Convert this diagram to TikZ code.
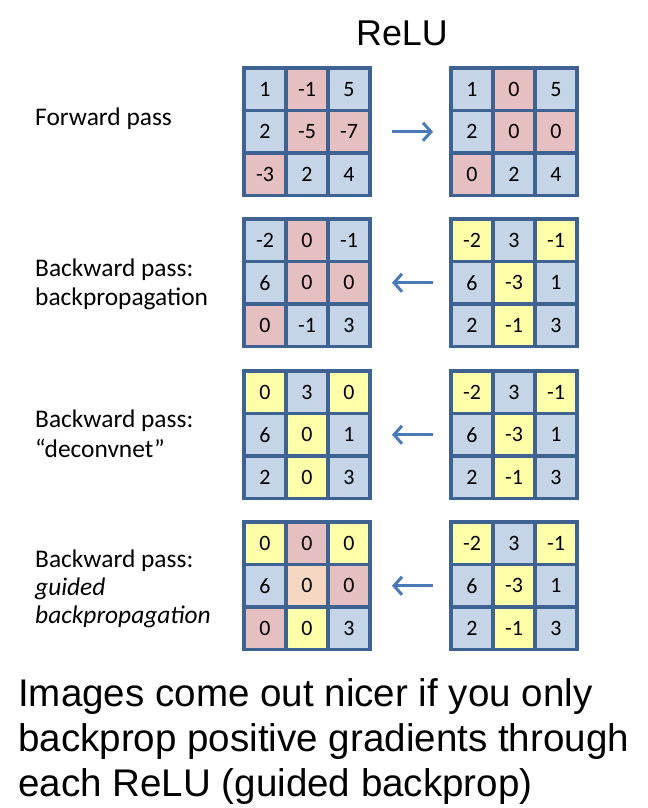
\documentclass[tikz,border=0pt]{standalone}
\usepackage{fontspec}
\setmainfont{Carlito}
\newfontfamily\arialf{Liberation Sans}
\usetikzlibrary{arrows.meta}
\definecolor{cb}{RGB}{198,212,232}
\definecolor{cp}{RGB}{230,192,192}
\definecolor{cy}{RGB}{255,255,170}
\definecolor{co}{RGB}{246,216,194}
\definecolor{gridline}{RGB}{62,98,146}
\definecolor{arrowc}{RGB}{74,122,184}
\tikzset{
  cell/.style={draw=gridline, line width=3.2bp, minimum width=42bp, minimum height=42.5bp,
    inner sep=0pt, outer sep=0pt, anchor=north west, font=\fontsize{22}{26}\selectfont},
  lbl/.style={anchor=base west, inner sep=0pt, font=\fontsize{25.5}{30}\selectfont},
  big/.style={anchor=base west, inner sep=0pt, font=\arialf\fontsize{38.7}{45}\selectfont},
  arr/.style={draw=arrowc, line width=3bp, -{Straight Barb[length=8bp,width=18bp]}}
}
\newcommand\drawgrid[4]{%
  \foreach \v/\c [count=\i from 0] in {#4} {
    \pgfmathtruncatemacro\rowi{int(\i/3)}
    \pgfmathtruncatemacro\coli{mod(\i,3)}
    \node[cell, fill=\c] (#1-\rowi-\coli) at ({#2+\coli*42}, {#3+\rowi*42.5}) {\v};
  }}
\begin{document}
\begin{tikzpicture}[x=1bp,y=-1bp]
\fill[white] (0,0) rectangle (648,808);
\useasboundingbox (0,0) rectangle (648,808);
\node[font=\arialf\fontsize{36}{40}\selectfont, anchor=base, inner sep=0pt] (title) at (402,46) {ReLU};
% labels
\node[lbl] (l1) at (35,125) {Forward pass};
\node[lbl] (l2a) at (35,276) {Backward pass:};
\node[lbl] (l2b) at (35,305) {backpropagation};
\node[lbl] (l3a) at (35,427) {Backward pass:};
\node[lbl] (l3b) at (35,457) {“deconvnet”};
\node[lbl] (l4a) at (35,567) {Backward pass:};
\node[lbl] (l4b) at (35,595) {\itshape guided};
\node[lbl] (l4c) at (35,623) {\itshape backpropagation};
% grids
\drawgrid{L1}{244}{68}{1/cb,-1/cp,5/cb,2/cb,-5/cp,-7/cp,-3/cp,2/cb,4/cb}
\drawgrid{R1}{451}{68}{1/cb,0/cp,5/cb,2/cb,0/cp,0/cp,0/cp,2/cb,4/cb}
\drawgrid{L2}{244}{219}{-2/cb,0/cp,-1/cb,6/cb,0/cp,0/cp,0/cp,-1/cb,3/cb}
\drawgrid{R2}{451}{219}{-2/cy,3/cb,-1/cy,6/cb,-3/cy,1/cb,2/cb,-1/cy,3/cb}
\drawgrid{L3}{244}{371}{0/cy,3/cb,0/cy,6/cb,0/cy,1/cb,2/cb,0/cy,3/cb}
\drawgrid{R3}{451}{371}{-2/cy,3/cb,-1/cy,6/cb,-3/cy,1/cb,2/cb,-1/cy,3/cb}
\drawgrid{L4}{244}{522}{0/cy,0/cp,0/cy,6/cb,0/co,0/cp,0/cp,0/cy,3/cb}
\drawgrid{R4}{451}{522}{-2/cy,3/cb,-1/cy,6/cb,-3/cy,1/cb,2/cb,-1/cy,3/cb}
% arrows
\draw[arr] ([xshift=22bp]L1-1-2.east) -- ([xshift=-18bp]R1-1-0.west);
\draw[arr] ([xshift=-18bp]R2-1-0.west) -- ([xshift=22bp]L2-1-2.east);
\draw[arr] ([xshift=-18bp]R3-1-0.west) -- ([xshift=22bp]L3-1-2.east);
\draw[arr] ([xshift=-18bp]R4-1-0.west) -- ([xshift=22bp]L4-1-2.east);
% bottom text
\node[big] (t1) at (18,706) {Images come out nicer if you only};
\node[big] (t2) at (18,751) {backprop positive gradients through};
\node[big] (t3) at (18,796) {each ReLU (guided backprop)};
\end{tikzpicture}
\end{document}
